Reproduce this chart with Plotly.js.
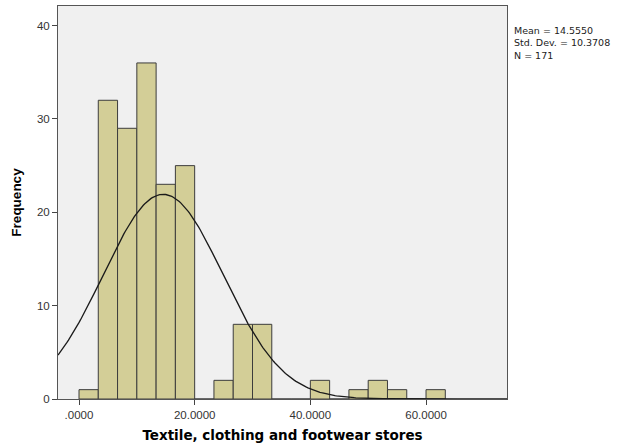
<!DOCTYPE html>
<html>
<head>
<meta charset="utf-8">
<script src="https://cdn.plot.ly/plotly-3.0.1.min.js"></script>
<style>
  html, body { margin: 0; padding: 0; background: #ffffff; }
  #chart { width: 618px; height: 444px; }
</style>
</head>
<body>
<div id="chart"></div>
<script>
// Histogram of textile, clothing and footwear stores (bin width 10/3)
const binStart = 0;
const binWidth = 10 / 3;
const counts = [1, 32, 29, 36, 23, 25, 0, 2, 8, 8, 0, 0, 2, 0, 1, 2, 1, 0, 1];

// Summary statistics shown beside the plot
const mean = 14.5550;
const stdDev = 10.3708;
const nObs = 171;

const xTickVals = [0, 20, 40, 60];
const xTickText = ['.0000', '20.0000', '40.0000', '60.0000'];
const yTickVals = [0, 10, 20, 30, 40];

const xRange = [-3.63, 74.0];
const yRange = [0, 42.1];

const centers = counts.map((_, i) => binStart + binWidth * (i + 0.5));

// Normal curve scaled to the histogram's counts
const curveX = [];
const curveY = [];
const steps = 300;
for (let i = 0; i <= steps; i++) {
  const x = xRange[0] + (xRange[1] - xRange[0]) * i / steps;
  const z = (x - mean) / stdDev;
  curveX.push(x);
  curveY.push(nObs * binWidth * Math.exp(-0.5 * z * z) / (stdDev * Math.sqrt(2 * Math.PI)));
}

const traces = [
  {
    type: 'bar',
    x: centers,
    y: counts,
    width: binWidth,
    marker: { color: '#d3ce97', line: { color: '#3c3c3c', width: 1 } },
    hoverinfo: 'x+y'
  },
  {
    type: 'scatter',
    mode: 'lines',
    x: curveX,
    y: curveY,
    line: { color: '#1a1a1a', width: 1.3 },
    hoverinfo: 'skip'
  }
];

const tickFont = { family: 'Liberation Sans, Arial, sans-serif', size: 11.5, color: '#333333' };
const xTitleFont = { family: 'DejaVu Sans, Verdana, sans-serif', size: 13.5, color: '#000000', weight: 'bold' };
const yTitleFont = { family: 'Liberation Sans, Arial, sans-serif', size: 13.5, color: '#000000', weight: 'bold' };
const noteFont = { family: 'DejaVu Sans, Verdana, sans-serif', size: 9.5, color: '#222222' };

const layout = {
  width: 618,
  height: 444,
  margin: { l: 58, r: 111, t: 6, b: 45 },
  paper_bgcolor: '#ffffff',
  plot_bgcolor: '#f0f0f0',
  showlegend: false,
  bargap: 0,
  xaxis: {
    range: xRange,
    tickvals: xTickVals,
    ticktext: xTickText,
    ticks: 'outside',
    ticklen: 5,
    tickcolor: '#444444',
    tickfont: tickFont,
    showgrid: false,
    zeroline: false,
    showline: true,
    mirror: true,
    linecolor: '#555555',
    linewidth: 1,
    title: { text: 'Textile, clothing and footwear stores', font: xTitleFont, standoff: 10 }
  },
  yaxis: {
    range: yRange,
    tickvals: yTickVals,
    ticks: 'outside',
    ticklen: 5,
    tickcolor: '#444444',
    tickfont: tickFont,
    showgrid: false,
    zeroline: false,
    showline: true,
    mirror: true,
    linecolor: '#555555',
    linewidth: 1,
    title: { text: 'Frequency', font: yTitleFont, standoff: 12 }
  },
  annotations: [{
    text: 'Mean = ' + mean.toFixed(4) + '<br>Std. Dev. = ' + stdDev.toFixed(4) + '<br>N = ' + nObs,
    xref: 'paper',
    yref: 'paper',
    x: 1.011,
    y: 1 - 17 / 393,
    xanchor: 'left',
    yanchor: 'top',
    align: 'left',
    showarrow: false,
    font: noteFont
  }]
};

Plotly.newPlot('chart', traces, layout, { displayModeBar: false, staticPlot: true });
</script>
</body>
</html>
